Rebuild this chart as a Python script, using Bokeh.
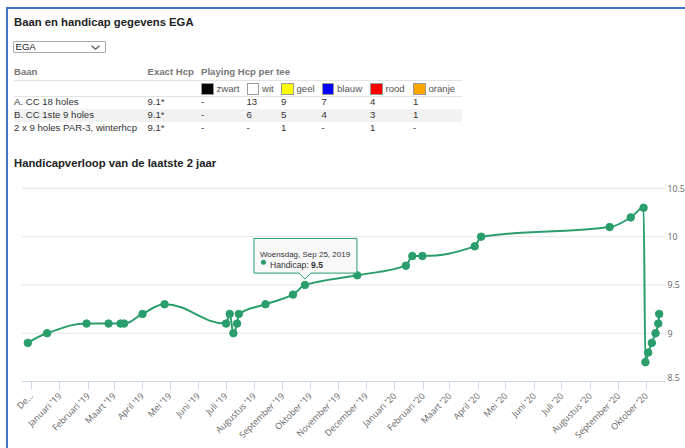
import html
import numpy as np
import pandas as pd
from bokeh.plotting import figure
from bokeh.models import ColumnDataSource, Range1d, LinearAxis, FixedTicker, Div
from bokeh.layouts import column
from bokeh.core.properties import value
from bokeh.embed import file_html
from bokeh.resources import INLINE

# ------------------------------------------------------------------ data
page_title = "Baan en handicap gegevens EGA"
select_value = "EGA"
table_headers = ["Baan", "Exact Hcp", "Playing Hcp per tee"]
courses = ["A. CC 18 holes", "B. CC 1ste 9 holes", "2 x 9 holes PAR-3, winterhcp"]
exact_hcp = ["9.1*", "9.1*", "9.1*"]
tees = ["zwart", "wit", "geel", "blauw", "rood", "oranje"]
tee_colors = ["#000000", "#ffffff", "#ffff00", "#0000ff", "#ff0000", "#ffa500"]
playing_hcp = [
    ["-", "13", "9", "7", "4", "1"],
    ["-", "6", "5", "4", "3", "1"],
    ["-", "-", "1", "-", "1", "-"],
]

chart_title = "Handicapverloop van de laatste 2 jaar"
series_name = "Handicap"
dates = ["2018-11-27", "2018-12-18", "2019-01-30", "2019-02-23", "2019-03-08",
         "2019-03-12", "2019-04-01", "2019-04-25", "2019-07-01", "2019-07-05",
         "2019-07-09", "2019-07-13", "2019-07-15", "2019-08-13", "2019-09-12",
         "2019-09-25", "2019-11-21", "2020-01-13", "2020-01-20", "2020-01-31",
         "2020-03-28", "2020-04-04", "2020-08-22", "2020-09-14", "2020-09-28",
         "2020-09-30", "2020-10-03", "2020-10-07", "2020-10-11", "2020-10-14",
         "2020-10-15"]
handicap = [8.9, 9.0, 9.1, 9.1, 9.1, 9.1, 9.2, 9.3, 9.1, 9.2,
            9.0, 9.1, 9.2, 9.3, 9.4, 9.5, 9.6, 9.7, 9.8, 9.8,
            9.9, 10.0, 10.1, 10.2, 10.3, 8.7, 8.8, 8.9, 9.0, 9.1,
            9.2]
month_labels = ["De\u2026", "Januari '19", "Februari '19", "Maart '19", "April '19",
                "Mei '19", "Juni '19", "Juli '19", "Augustus '19", "September '19",
                "Oktober '19", "November '19", "December '19", "Januari '20",
                "Februari '20", "Maart '20", "April '20", "Mei '20", "Juni '20",
                "Juli '20", "Augustus '20", "September '20", "Oktober '20"]
y_ticks = [8.5, 9.0, 9.5, 10.0, 10.5]
y_labels = ["8.5", "9", "9.5", "10", "10.5"]
tooltip_date = "2019-09-25"
tooltip_header = "Woensdag, Sep 25, 2019"

# ------------------------------------------------------------------ styles
GREEN = "#299e6c"
BLUE = "#4472c4"
FONT = '"Liberation Sans", Arial, sans-serif'
ROOT_ML, ROOT_MT, BORDER = 6, 7, 2
OX, OY = ROOT_ML + BORDER, ROOT_MT + BORDER   # page position of the content origin

# ------------------------------------------------------------------ top part (html)
parts = []


def txt(x, base, s, fs, bold=False, color="#333"):
    top = base - 0.8465 * fs - OY
    parts.append(
        f'<div style="position:absolute;left:{x - OX}px;top:{top:.2f}px;font-size:{fs}px;'
        f'line-height:{fs}px;font-weight:{"bold" if bold else "normal"};color:{color};'
        f'white-space:nowrap;">{html.escape(s)}</div>')


def box(x, y, w, h, fill, border="none", radius=0):
    parts.append(
        f'<div style="position:absolute;left:{x - OX}px;top:{y - OY}px;width:{w}px;height:{h}px;'
        f'background:{fill};border:{border};border-radius:{radius}px;box-sizing:border-box;"></div>')


txt(14, 26.5, page_title, 11.3, True, "#222")

# select box
box(12.5, 40.5, 93.5, 12.8, "#ffffff", "1px solid #a9a9a9", 1)
txt(15.5, 50.2, select_value, 9.6, False, "#222")
parts.append(f'<svg style="position:absolute;left:{90 - OX}px;top:{44 - OY}px" width="12" height="8">'
             '<polyline points="1.5,1.8 5.5,5.2 9.5,1.8" fill="none" stroke="#555" '
             'stroke-width="1.2"/></svg>')

col_x = [14, 147.5]
tee_x = [201, 246.5, 281, 321.5, 370, 413]
tbl_left, tbl_right = 14, 462

txt(col_x[0], 75, table_headers[0], 9.6, True, "#777")
txt(col_x[1], 75, table_headers[1], 9.6, True, "#777")
txt(tee_x[0], 75, table_headers[2], 9.6, True, "#777")
box(tbl_left, 79.5, tbl_right - tbl_left, 1, "#e3e3e3")
for tx, name, c in zip(tee_x, tees, tee_colors):
    box(tx, 82.5, 12.5, 12, c, "1px solid #9a9a9a")
    txt(tx + 15.5, 91.7, name, 9.6, False, "#555")
box(tbl_left, 95.5, tbl_right - tbl_left, 1, "#e3e3e3")

row_base = [105.5, 118.5, 131.5]
box(tbl_left, 109, tbl_right - tbl_left, 12.7, "#f2f2f2")
for rb, cname, eh, vals in zip(row_base, courses, exact_hcp, playing_hcp):
    txt(col_x[0], rb, cname, 9.6, False, "#333")
    txt(col_x[1], rb, eh, 9.6, False, "#333")
    for tx, v in zip(tee_x, vals):
        txt(tx, rb, v, 9.6, False, "#333")

txt(14, 167.5, chart_title, 11.3, True, "#222")

DIV_W, DIV_H = 677, 170
div_html = (f'<div style="position:relative;width:{DIV_W}px;height:{DIV_H}px;'
            f'font-family:{FONT};overflow:hidden;">' + "".join(parts) + '</div>')
div = Div(text=div_html, width=DIV_W, height=DIV_H, margin=(0, 0, 0, 0))

# ------------------------------------------------------------------ chart
origin = pd.Timestamp("2018-12-01")
xd = np.array((pd.to_datetime(dates) - origin).days, dtype=float)
yv = np.array(handicap, dtype=float)

span = xd.max() - xd.min()
x0, x1 = xd.min() - 0.01 * span, xd.max() + 0.01 * span   # plot-area extent (data)
y0, y1 = y_ticks[0], y_ticks[-1]

FIG_W, FIG_H = 677, 269
PLOT_L, PLOT_W = 13, 644        # plot area inside the figure (px)
PLOT_T, PLOT_H = 9, 195
EXTRA_R = FIG_W - PLOT_L - PLOT_W   # room at the right for the value labels
EXTRA_T = 6                          # room above the top gridline for its label
ppd = PLOT_W / (x1 - x0)
ppu = PLOT_H / (y1 - y0)

p = figure(width=FIG_W, height=FIG_H, title=None,
           x_range=Range1d(x0, x1 + EXTRA_R / ppd),
           y_range=Range1d(y0, y1 + EXTRA_T / ppu),
           x_axis_type=None, y_axis_type=None,
           toolbar_location=None, output_backend="svg",
           min_border_left=PLOT_L, min_border_right=0,
           min_border_top=PLOT_T - EXTRA_T,
           min_border_bottom=FIG_H - PLOT_T - PLOT_H,
           outline_line_color=None, background_fill_color="white",
           border_fill_color="white", margin=(0, 0, 0, 0))

# horizontal grid lines (limited to the plot area)
p.segment(x0=[x0] * len(y_ticks), y0=y_ticks, x1=[x1] * len(y_ticks), y1=y_ticks,
          line_color="#e6e6e6", line_width=1)

# x axis with month ticks
month_starts = pd.date_range("2018-12-01", "2020-10-01", freq="MS")
tick_vals = [int(v) for v in (month_starts - origin).days]
xaxis = LinearAxis(ticker=FixedTicker(ticks=tick_vals), bounds=(x0, x1),
                   major_label_overrides={t: l for t, l in zip(tick_vals, month_labels)},
                   major_label_orientation=np.pi / 4,
                   axis_line_color="#ccd6eb", major_tick_line_color="#ccd6eb",
                   minor_tick_line_color=None,
                   major_tick_in=0, major_tick_out=8, major_label_standoff=5,
                   major_label_text_font="Open Sans",
                   major_label_text_font_size="8.8px",
                   major_label_text_color="#666666")
p.add_layout(xaxis, "below")

# value labels at the right of the plot area
ylab_y = [t + (4.5 / ppu if t == y0 else 0.0) for t in y_ticks]
p.text(x=[x1] * len(y_ticks), y=ylab_y, text=y_labels, x_offset=2,
       text_font=value("Open Sans"), text_font_size="8.8px",
       text_color="#666666", text_baseline="middle", text_align="left")

# spline (Highcharts-like) control points
n = len(xd)
lcx, lcy, rcx, rcy = xd.copy(), yv.copy(), xd.copy(), yv.copy()
sm, dn = 1.5, 2.5
for i in range(1, n - 1):
    lx, ly = xd[i - 1], yv[i - 1]
    nx, ny = xd[i + 1], yv[i + 1]
    cx, cy = xd[i], yv[i]
    lcx_i = (sm * cx + lx) / dn
    lcy_i = (sm * cy + ly) / dn
    rcx_i = (sm * cx + nx) / dn
    rcy_i = (sm * cy + ny) / dn
    corr = 0.0
    if rcx_i != lcx_i:
        corr = ((rcy_i - lcy_i) * (rcx_i - cx)) / (rcx_i - lcx_i) + cy - rcy_i
    lcy_i += corr
    rcy_i += corr
    if lcy_i > ly and lcy_i > cy:
        lcy_i = max(ly, cy)
        rcy_i = 2 * cy - lcy_i
    elif lcy_i < ly and lcy_i < cy:
        lcy_i = min(ly, cy)
        rcy_i = 2 * cy - lcy_i
    if rcy_i > ny and rcy_i > cy:
        rcy_i = max(ny, cy)
        lcy_i = 2 * cy - rcy_i
    elif rcy_i < ny and rcy_i < cy:
        rcy_i = min(ny, cy)
        lcy_i = 2 * cy - rcy_i
    lcx[i], lcy[i], rcx[i], rcy[i] = lcx_i, lcy_i, rcx_i, rcy_i

seg = ColumnDataSource(dict(x0=xd[:-1], y0=yv[:-1], x1=xd[1:], y1=yv[1:],
                            cx0=rcx[:-1], cy0=rcy[:-1], cx1=lcx[1:], cy1=lcy[1:]))
p.bezier("x0", "y0", "x1", "y1", "cx0", "cy0", "cx1", "cy1", source=seg,
         line_color=GREEN, line_width=2)
p.scatter(xd, yv, size=7.5, marker="circle", fill_color=GREEN, line_color=GREEN)

# tooltip at the hovered point
ti = dates.index(tooltip_date)
tx0, ty0 = xd[ti], yv[ti]


def sx(dx):
    return tx0 + dx / ppd


def sy(dy):
    return ty0 - dy / ppu


L, R, T, B = -51, 52, -47, -12
poly = [(L, T), (R, T), (R, B), (6, B), (0, -6), (-6, B), (L, B)]
p.patch([sx(a) for a, b in poly], [sy(b) for a, b in poly],
        fill_color="#f7f7f7", fill_alpha=0.9, line_color=GREEN, line_width=1)
p.text([sx(-45)], [sy(-30.3)], text=[tooltip_header], text_font=value("Liberation Sans"),
       text_font_size="8px", text_color="#333333", text_baseline="alphabetic",
       text_align="left")
p.scatter([sx(-41.5)], [sy(-23)], size=5, marker="circle", fill_color=GREEN, line_color=None)
body_fs = 8.6
p.text([sx(-35)], [sy(-19.8)], text=[series_name + ":"], text_font=value("Liberation Sans"),
       text_font_size=f"{body_fs}px", text_color="#333333", text_baseline="alphabetic",
       text_align="left")
p.text([sx(-35 + 4.78 * body_fs)], [sy(-19.8)], text=[f"{yv[ti]:.1f}"],
       text_font=value("Liberation Sans"),
       text_font_size=f"{body_fs}px", text_font_style="bold", text_color="#333333",
       text_baseline="alphabetic", text_align="left")

root = column(div, p, spacing=0,
              styles={"margin-left": f"{ROOT_ML}px", "margin-top": f"{ROOT_MT}px",
                      "border-left": f"{BORDER}px solid {BLUE}",
                      "border-top": f"{BORDER}px solid {BLUE}"})

open("out.html", "w").write(file_html(root, INLINE))
